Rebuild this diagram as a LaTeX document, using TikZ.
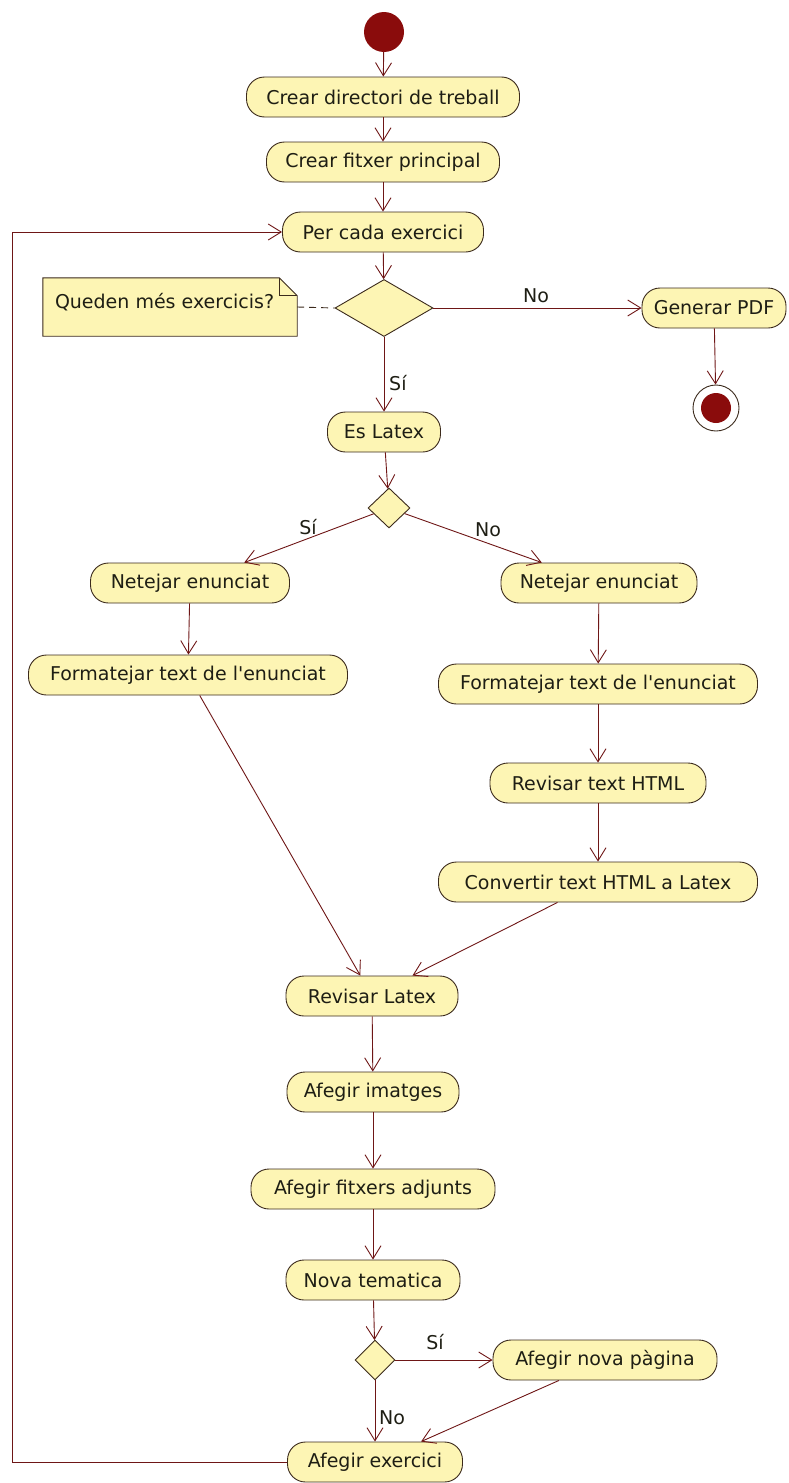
\documentclass[tikz,border=0pt]{standalone}
\usepackage{fontspec}
\setmainfont{DejaVu Sans}
\usetikzlibrary{arrows.meta,shapes.geometric}
\definecolor{actfill}{HTML}{FDF5B4}
\definecolor{actline}{HTML}{3B2A1C}
\definecolor{flow}{HTML}{6E1616}
\definecolor{startred}{HTML}{8A0C0C}
\definecolor{ink}{HTML}{1E1E14}

\begin{document}
\begin{tikzpicture}[x=1pt,y=-1pt,
  font=\fontsize{19}{22}\selectfont,
  act/.style={draw=actline, fill=actfill, rounded corners=18pt, minimum height=40pt,
    inner xsep=4pt, inner ysep=0pt, text=ink, line width=0.9pt},
  dec/.style={diamond, draw=actline, fill=actfill, inner sep=0pt, line width=0.9pt},
  flowarr/.style={draw=flow, line width=0.9pt, -{Straight Barb[length=13pt,width=16pt]}},
  lbl/.style={text=ink, inner sep=1pt}
]
\useasboundingbox (0,0) rectangle (789,1483);

% start and main column
\node[circle, fill=startred, minimum size=40pt, inner sep=0pt] (start) at (384,32) {};
\node[act, minimum width=273pt] (dir) at (383,97) {Crear directori de treball};
\node[act, minimum width=233pt] (fitx) at (383,162) {Crear fitxer principal};
\node[act, minimum width=201pt] (pc) at (383,232) {Per cada exercici};
\node[dec, minimum width=98pt, minimum height=57pt] (d1) at (384,308) {};

% note attached to the first decision
\node[minimum width=254pt, minimum height=58pt, inner sep=0pt] (note) at (170,307) {};
\filldraw[fill=actfill, draw=actline, line width=0.9pt]
  (note.south west) -- (note.north west) -- ([xshift=-18pt]note.north east)
  -- ([yshift=-18pt]note.north east) -- (note.south east) -- cycle;
\draw[actline, line width=0.9pt] ([xshift=-18pt]note.north east)
  -- ([xshift=-18pt,yshift=-18pt]note.north east) -- ([yshift=-18pt]note.north east);
\node[lbl, anchor=west] (notetxt) at ([xshift=11pt,yshift=5pt]note.west) {Queden més exercicis?};

% end branch
\node[act, minimum width=144pt] (gen) at (714,308) {Generar PDF};
\node[circle, draw=actline, minimum size=46pt, inner sep=0pt, line width=0.9pt] (end) at (716,408) {};
\fill[startred] (end.center) circle (15pt);

% exercise type
\node[act, minimum width=113pt] (es) at (384,432) {Es Latex};
\node[dec, minimum width=42pt, minimum height=40pt] (d2) at (389,508) {};
\node[act, minimum width=199pt] (netL) at (190,583) {Netejar enunciat};
\node[act, minimum width=196pt] (netR) at (599,583) {Netejar enunciat};
\node[act, minimum width=319pt] (fmtL) at (188,675) {Formatejar text de l\textquotesingle enunciat};
\node[act, minimum width=319pt] (fmtR) at (598,684) {Formatejar text de l\textquotesingle enunciat};
\node[act, minimum width=216pt] (revH) at (598,783) {Revisar text HTML};
\node[act, minimum width=319pt] (conv) at (598,882) {Convertir text HTML a Latex};

% common tail
\node[act, minimum width=172pt] (revL) at (372,996) {Revisar Latex};
\node[act, minimum width=172pt] (img) at (373,1092) {Afegir imatges};
\node[act, minimum width=244pt] (adj) at (373,1189) {Afegir fitxers adjunts};
\node[act, minimum width=174pt] (nova) at (373,1280) {Nova tematica};
\node[dec, minimum width=40pt, minimum height=40pt] (d3) at (375,1360) {};
\node[act, minimum width=224pt] (anp) at (605,1360) {Afegir nova pàgina};
\node[act, minimum width=175pt] (ae) at (375,1462) {Afegir exercici};

% guard labels
\node[lbl] (lno1) at (536,296) {No};
\node[lbl, anchor=west] (lsi1) at (388,383) {Sí};
\node[lbl] (lsi2) at (308,527) {Sí};
\node[lbl] (lno2) at (488,530) {No};
\node[lbl] (lsi3) at (435,1342) {Sí};
\node[lbl, anchor=west] (lno3) at (378,1418) {No};

% flows
\draw[flowarr] (start) -- (dir);
\draw[flowarr] (dir) -- (fitx);
\draw[flowarr] (fitx) -- (pc);
\draw[flowarr] (pc) -- (d1);
\draw[actline, line width=0.9pt, dash pattern=on 7pt off 5pt] (note.east) -- (d1.west);
\draw[flowarr] (d1) -- (gen);
\draw[flowarr] (gen) -- (end);
\draw[flowarr] (d1) -- (es);
\draw[flowarr] (es) -- (d2);
\draw[flowarr] (d2) -- (netL);
\draw[flowarr] (d2) -- (netR);
\draw[flowarr] (netL) -- (fmtL);
\draw[flowarr] (netR) -- (fmtR);
\draw[flowarr] (fmtR) -- (revH);
\draw[flowarr] (revH) -- (conv);
\draw[flowarr] (fmtL) -- (revL);
\draw[flowarr] (conv) -- (revL);
\draw[flowarr] (revL) -- (img);
\draw[flowarr] (img) -- (adj);
\draw[flowarr] (adj) -- (nova);
\draw[flowarr] (nova) -- (d3);
\draw[flowarr] (d3) -- (anp);
\draw[flowarr] (d3) -- (ae);
\draw[flowarr] (anp) -- (ae);

% loop back to the next exercise
\coordinate (loopx) at (12,0);
\draw[flowarr] (ae.west) -- (ae.west -| loopx) |- (pc.west);
\end{tikzpicture}
\end{document}
